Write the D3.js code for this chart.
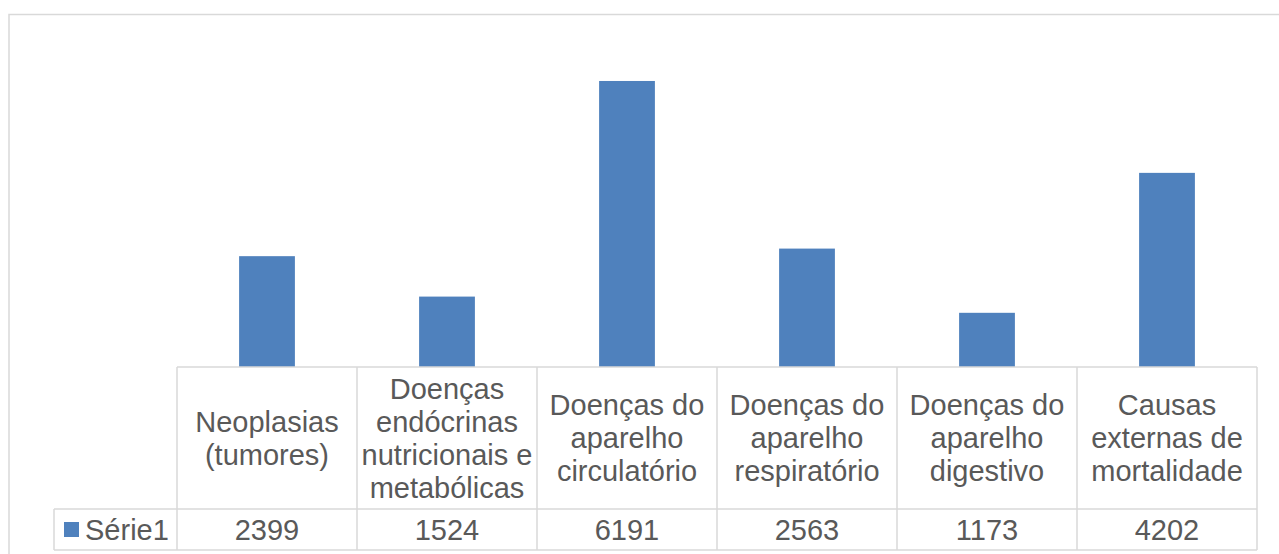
<!DOCTYPE html>
<html>
<head>
<meta charset="utf-8">
<script src="https://cdn.jsdelivr.net/npm/d3@7"></script>
<style>
  html, body { margin: 0; padding: 0; background: #fff; }
  svg { display: block; }
  text { font-family: "Liberation Sans", Arial, sans-serif; fill: #595959; }
</style>
</head>
<body>
<svg id="chart" width="1279" height="554"></svg>
<script>
// Deaths by cause group (Série1)
const categories = [
  ["Neoplasias", "(tumores)"],
  ["Doenças", "endócrinas", "nutricionais e", "metabólicas"],
  ["Doenças do", "aparelho", "circulatório"],
  ["Doenças do", "aparelho", "respiratório"],
  ["Doenças do", "aparelho", "digestivo"],
  ["Causas", "externas de", "mortalidade"]
];
const seriesName = "Série1";
const values = [2399, 1524, 6191, 2563, 1173, 4202];
const yMax = 7000;

const svg = d3.select("#chart");
const W = 1279, H = 554;

// chart area frame
svg.append("rect")
  .attr("x", 9).attr("y", 14.5)
  .attr("width", W + 10).attr("height", H + 10)
  .attr("fill", "none").attr("stroke", "#d9d9d9").attr("stroke-width", 1.5);

// plot geometry
const plotLeft = 177, plotRight = 1257;
const baseY = 367;
const plotTop = 43.6;
const rowSplit = 509, tableBottom = 550, legendLeft = 54;

const x = d3.scaleBand()
  .domain(d3.range(values.length))
  .range([plotLeft, plotRight])
  .paddingInner(0).paddingOuter(0);

const y = d3.scaleLinear().domain([0, yMax]).range([baseY, plotTop]);

const barW = x.bandwidth() * 0.31;

// bars
svg.append("g").selectAll("rect")
  .data(values)
  .join("rect")
  .attr("x", (d, i) => x(i) + (x.bandwidth() - barW) / 2)
  .attr("y", d => y(d))
  .attr("width", barW)
  .attr("height", d => y(0) - y(d))
  .attr("fill", "#4f81bd");

// data table grid
const grid = svg.append("g").attr("stroke", "#d9d9d9").attr("stroke-width", 1.5).attr("fill", "none");
grid.append("line").attr("x1", plotLeft).attr("x2", plotRight).attr("y1", baseY).attr("y2", baseY);
grid.append("line").attr("x1", legendLeft).attr("x2", plotRight).attr("y1", rowSplit).attr("y2", rowSplit);
grid.append("line").attr("x1", legendLeft).attr("x2", plotRight).attr("y1", tableBottom).attr("y2", tableBottom);
grid.append("line").attr("x1", legendLeft).attr("x2", legendLeft).attr("y1", rowSplit).attr("y2", tableBottom);
grid.selectAll("line.v")
  .data(d3.range(values.length + 1))
  .join("line")
  .attr("class", "v")
  .attr("x1", i => i < values.length ? x(i) : plotRight)
  .attr("x2", i => i < values.length ? x(i) : plotRight)
  .attr("y1", baseY).attr("y2", tableBottom);

// category labels (header row of the data table)
const fontSize = 29, lineH = 33;
const cellMid = (baseY + rowSplit) / 2;
const cats = svg.append("g").attr("text-anchor", "middle").attr("font-size", fontSize);
categories.forEach((lines, i) => {
  const cx = x(i) + x.bandwidth() / 2;
  const t = cats.append("text").attr("x", cx);
  const startY = cellMid - (lines.length - 1) * lineH / 2 + 10;
  lines.forEach((ln, j) => {
    t.append("tspan").attr("x", cx).attr("y", startY + j * lineH).text(ln);
  });
});

// value row
const valMid = (rowSplit + tableBottom) / 2 + 10;
svg.append("g").attr("text-anchor", "middle").attr("font-size", fontSize)
  .selectAll("text")
  .data(values)
  .join("text")
  .attr("x", (d, i) => x(i) + x.bandwidth() / 2)
  .attr("y", valMid)
  .text(d => d);

// legend key in the table
svg.append("rect")
  .attr("x", 64).attr("y", 522).attr("width", 15).attr("height", 15)
  .attr("fill", "#4f81bd");
svg.append("text")
  .attr("x", 85).attr("y", valMid)
  .attr("font-size", fontSize)
  .text(seriesName);
</script>
</body>
</html>
